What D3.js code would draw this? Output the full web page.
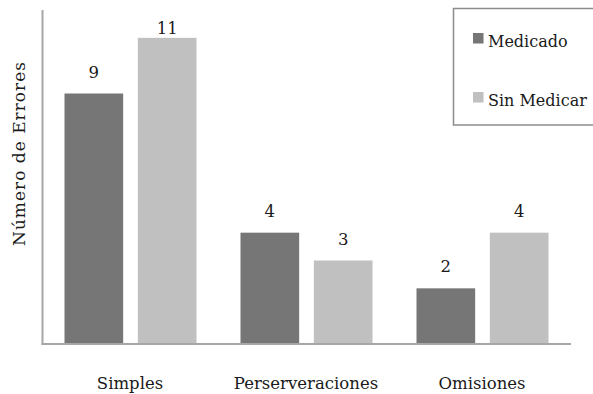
<!DOCTYPE html>
<html>
<head>
<meta charset="utf-8">
<script src="https://cdn.jsdelivr.net/npm/d3@7"></script>
<style>
  html, body { margin: 0; padding: 0; background: #fff; }
  svg { display: block; }
</style>
</head>
<body>
<svg id="chart" width="593" height="394"></svg>
<script>
// Error counts per type, for medicated and unmedicated groups
const categories = ["Simples", "Perserveraciones", "Omisiones"];
const series = ["Medicado", "Sin Medicar"];
const medicado = [9, 4, 2];
const sinMedicar = [11, 3, 4];
const yTitle = "Número de Errores";

const colors = { "Medicado": "#767676", "Sin Medicar": "#c0c0c0" };
const valuesBySeries = { "Medicado": medicado, "Sin Medicar": sinMedicar };
const FONT = "'DejaVu Serif', serif";

const svg = d3.select("#chart");

// every label uses the same serif face
function label(sel) {
  return sel.style("font-family", FONT).attr("fill", "#1a1a1a");
}

const x0 = d3.scaleBand().domain(categories).range([42, 570]).padding(0);
const x1 = d3.scaleBand().domain(series)
  .range([22.5, x0.bandwidth() - 21.5])
  .paddingInner(0.2).paddingOuter(0);
const y = d3.scaleLinear().domain([0, 12]).range([344, 10]);

const rows = categories.map((c, i) => ({
  category: c,
  items: series.map(s => ({ series: s, value: valuesBySeries[s][i] }))
}));

// Bars
const groups = svg.append("g").selectAll("g")
  .data(rows).join("g")
  .attr("transform", d => `translate(${x0(d.category)},0)`);

groups.selectAll("rect")
  .data(d => d.items).join("rect")
  .attr("x", d => x1(d.series))
  .attr("width", x1.bandwidth())
  .attr("y", d => y(d.value))
  .attr("height", d => y(0) - y(d.value))
  .attr("fill", d => colors[d.series]);

// Value labels above each bar, kept inside the top of the plot
groups.selectAll("text.value")
  .data(d => d.items).join("text")
  .attr("class", "value")
  .attr("x", d => x1(d.series) + x1.bandwidth() / 2)
  .attr("y", d => Math.max(y(d.value) - 16, 34))
  .attr("text-anchor", "middle")
  .attr("font-size", 16.5)
  .call(label)
  .text(d => d.value);

// Axis lines
const axisColor = "#a6a6a6";
svg.append("line")
  .attr("x1", 42.5).attr("x2", 42.5)
  .attr("y1", y(12)).attr("y2", y(0) + 1)
  .attr("stroke", axisColor).attr("stroke-width", 2);
svg.append("line")
  .attr("x1", 41.5).attr("x2", 571)
  .attr("y1", y(0)).attr("y2", y(0))
  .attr("stroke", axisColor).attr("stroke-width", 2);

// Category labels
svg.append("g").selectAll("text")
  .data(categories).join("text")
  .attr("x", d => x0(d) + x0.bandwidth() / 2)
  .attr("y", 389)
  .attr("text-anchor", "middle")
  .attr("font-size", 16.5)
  .call(label)
  .text(d => d);

// Y axis title
svg.append("text")
  .attr("transform", "translate(25,153.5) rotate(-90)")
  .attr("text-anchor", "middle")
  .attr("font-size", 17)
  .attr("letter-spacing", 1)
  .call(label)
  .text(yTitle);

// Legend
const legend = svg.append("g");
legend.append("rect")
  .attr("x", 453.5).attr("y", 8.5)
  .attr("width", 150).attr("height", 116.5)
  .attr("fill", "#fff")
  .attr("stroke", "#8c8c8c").attr("stroke-width", 1.5);

const legendRows = [
  { series: "Medicado", top: 33, baseline: 47 },
  { series: "Sin Medicar", top: 92, baseline: 106 }
];
const lg = legend.selectAll("g").data(legendRows).join("g");
lg.append("rect")
  .attr("x", 473).attr("y", d => d.top)
  .attr("width", 10.5).attr("height", 10.5)
  .attr("fill", d => colors[d.series]);
lg.append("text")
  .attr("x", 488).attr("y", d => d.baseline)
  .attr("font-size", 16)
  .call(label)
  .text(d => d.series);
</script>
</body>
</html>
